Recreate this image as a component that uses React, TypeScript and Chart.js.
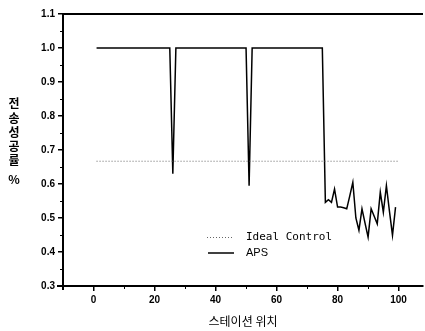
import React, { useEffect, useRef } from 'react';
import { Chart, registerables } from 'chart.js';

Chart.register(...registerables);

// ---- data ----
const apsStations = [1, 25, 26, 27, 50, 51, 52, 75, 76, 77, 78, 79, 80, 81, 82, 83, 84, 85, 86, 87, 88, 89, 90, 91, 92, 93, 94, 95, 96, 97, 98, 99];
const apsValues = [1.0, 1.0, 0.63, 1.0, 1.0, 0.595, 1.0, 1.0, 0.546, 0.554, 0.546, 0.585, 0.532, 0.532, 0.53, 0.527, 0.565, 0.605, 0.5, 0.464, 0.527, 0.485, 0.444, 0.527, 0.505, 0.483, 0.576, 0.517, 0.595, 0.52, 0.449, 0.532];
const idealStations = [1, 100];
const idealValues = [0.667, 0.667];

const xTicks = [0, 20, 40, 60, 80, 100];
const xMinorTicks = [10, 30, 50, 70, 90];
const yTicks = [0.3, 0.4, 0.5, 0.6, 0.7, 0.8, 0.9, 1.0, 1.1];
const yMinorTicks = [0.35, 0.45, 0.55, 0.65, 0.75, 0.85, 0.95, 1.05];

const xTitle = '스테이션 위치';
const yTitleChars = ['전', '송', '성', '공', '률', '%'];
const legendLabels = ['Ideal Control', 'APS'];

const decorPlugin = {
  id: 'decor',
  afterDraw(chart: any) {
    const { ctx, chartArea, scales } = chart;
    const xs = scales.x;
    const ys = scales.y;
    ctx.save();
    ctx.strokeStyle = '#000';
    // top border
    ctx.lineWidth = 2;
    ctx.beginPath();
    ctx.moveTo(chartArea.left, chartArea.top);
    ctx.lineTo(chartArea.right, chartArea.top);
    ctx.stroke();
    // corner extensions
    ctx.beginPath();
    ctx.moveTo(chartArea.left - 6, chartArea.bottom);
    ctx.lineTo(chartArea.left, chartArea.bottom);
    ctx.moveTo(chartArea.left, chartArea.bottom);
    ctx.lineTo(chartArea.left, chartArea.bottom + 4);
    ctx.stroke();
    // minor ticks
    ctx.lineWidth = 1;
    ctx.beginPath();
    xMinorTicks.forEach((v) => {
      const px = Math.round(xs.getPixelForValue(v)) + 0.5;
      ctx.moveTo(px, chartArea.bottom);
      ctx.lineTo(px, chartArea.bottom + 3);
    });
    yMinorTicks.forEach((v) => {
      const py = Math.round(ys.getPixelForValue(v)) + 0.5;
      ctx.moveTo(chartArea.left, py);
      ctx.lineTo(chartArea.left - 3, py);
    });
    ctx.stroke();

    // y title stacked vertically
    ctx.fillStyle = '#000';
    ctx.font = 'bold 12px "Noto Sans CJK KR"';
    ctx.textAlign = 'center';
    ctx.textBaseline = 'middle';
    const yPos = [103, 118, 132, 146, 160, 179];
    yTitleChars.forEach((c, i) => {
      ctx.fillText(c, 14, yPos[i]);
    });

    // legend
    ctx.lineWidth = 1;
    ctx.strokeStyle = '#666';
    ctx.setLineDash([1, 2]);
    ctx.beginPath();
    ctx.moveTo(207, 237.5);
    ctx.lineTo(234, 237.5);
    ctx.stroke();
    ctx.setLineDash([]);
    ctx.strokeStyle = '#000';
    ctx.lineWidth = 1.5;
    ctx.beginPath();
    ctx.moveTo(208, 253);
    ctx.lineTo(234, 253);
    ctx.stroke();
    ctx.textAlign = 'left';
    ctx.font = '11px "DejaVu Sans Mono"';
    ctx.fillText(legendLabels[0], 246, 237);
    ctx.font = '11px "Liberation Sans"';
    ctx.fillText(legendLabels[1], 246, 253);
    ctx.restore();
  },
};

export default function App() {
  const ref = useRef<HTMLCanvasElement | null>(null);
  useEffect(() => {
    document.body.style.margin = '0';
    const canvas = ref.current;
    if (!canvas) return;
    const chart = new Chart(canvas, {
      type: 'line',
      data: {
        datasets: [
          {
            label: legendLabels[0],
            data: idealStations.map((x, i) => ({ x, y: idealValues[i] })),
            borderColor: '#666',
            borderWidth: 1,
            borderDash: [1, 2],
            pointRadius: 0,
            tension: 0,
          },
          {
            label: legendLabels[1],
            data: apsStations.map((x, i) => ({ x, y: apsValues[i] })),
            borderColor: '#000',
            borderWidth: 1.5,
            pointRadius: 0,
            tension: 0,
          },
        ],
      },
      options: {
        animation: false,
        responsive: false,
        devicePixelRatio: 1,
        layout: { padding: { top: 14, right: 2, left: 0, bottom: 0 } },
        plugins: { legend: { display: false }, tooltip: { enabled: false } },
        scales: {
          x: {
            type: 'linear',
            min: -10,
            max: 108,
            afterBuildTicks: (s: any) => {
              s.ticks = xTicks.map((v) => ({ value: v }));
            },
            afterFit: (s: any) => {
              s.height = 45;
            },
            grid: { drawOnChartArea: false, drawTicks: true, tickLength: 5, color: '#000', lineWidth: 1.5 },
            border: { display: true, color: '#000', width: 2 },
            ticks: {
              color: '#000',
              padding: 3,
              maxRotation: 0,
              font: { family: '"Liberation Sans"', size: 10, weight: 'bold' },
              callback: (v: any) => String(v),
            },
            title: {
              display: true,
              text: xTitle,
              color: '#000',
              font: { family: '"Noto Sans CJK KR"', size: 12 },
              padding: { top: 0, bottom: 2 },
            },
          },
          y: {
            type: 'linear',
            min: 0.3,
            max: 1.1,
            afterBuildTicks: (s: any) => {
              s.ticks = yTicks.map((v) => ({ value: v }));
            },
            afterFit: (s: any) => {
              s.width = 63;
            },
            grid: { drawOnChartArea: false, drawTicks: true, tickLength: 5, color: '#000', lineWidth: 1.5 },
            border: { display: true, color: '#000', width: 2 },
            ticks: {
              color: '#000',
              padding: 3,
              font: { family: '"Liberation Sans"', size: 10, weight: 'bold' },
              callback: (v: any) => Number(v).toFixed(1),
            },
            title: { display: false },
          },
        },
      },
      plugins: [decorPlugin],
    } as any);
    return () => chart.destroy();
  }, []);
  return (
    <div style={{ width: 425, height: 331 }}>
      <canvas ref={ref} width={425} height={331} style={{ display: 'block' }} />
    </div>
  );
}
